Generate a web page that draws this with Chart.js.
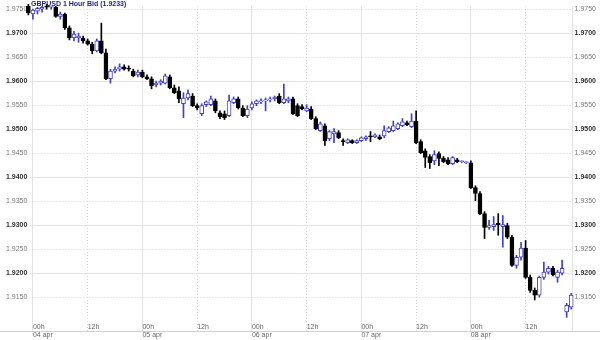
<!DOCTYPE html>
<html>
<head>
<meta charset="utf-8">
<title>GBPUSD 1 Hour Bid</title>
<script src="https://cdn.jsdelivr.net/npm/chart.js@4.4.0/dist/chart.umd.min.js"></script>
<style>
  html, body { margin: 0; padding: 0; background: #fff; }
  #wrap { width: 600px; height: 340px; }
</style>
</head>
<body>
<div id="wrap"><canvas id="grafico" width="600" height="340"></canvas></div>
<script>
// DATOS:

const titulo = "GBPUSD 1 Hour Bid (1.9233)";
const primeraHora = -1; // horas desde 04 apr 00h
const dias = ["04 apr", "05 apr", "06 apr", "07 apr", "08 apr"];
const horasTicks = [0, 12, 24, 36, 48, 60, 72, 84, 96, 108];
const preciosTicks = [1.9150, 1.9200, 1.9250, 1.9300, 1.9350, 1.9400, 1.9450,
                      1.9500, 1.9550, 1.9600, 1.9650, 1.9700, 1.9750];

const aperturas = [
  1.9756, 1.9740, 1.9746, 1.9750, 1.9756, 1.9754, 1.9754, 1.9735, 1.9740, 1.9711,
  1.9690, 1.9690, 1.9690, 1.9684, 1.9677, 1.9663, 1.9684, 1.9659, 1.9605, 1.9621,
  1.9625, 1.9630, 1.9627, 1.9621, 1.9613, 1.9619, 1.9609, 1.9605, 1.9592, 1.9596,
  1.9596, 1.9609, 1.9586, 1.9580, 1.9553, 1.9565, 1.9569, 1.9549, 1.9532, 1.9551,
  1.9551, 1.9559, 1.9534, 1.9532, 1.9528, 1.9555, 1.9563, 1.9544, 1.9528, 1.9544,
  1.9553, 1.9557, 1.9559, 1.9561, 1.9563, 1.9569, 1.9555, 1.9559, 1.9563, 1.9549,
  1.9547, 1.9538, 1.9542, 1.9522, 1.9497, 1.9507, 1.9480, 1.9490, 1.9493, 1.9476,
  1.9472, 1.9476, 1.9472, 1.9476, 1.9480, 1.9486, 1.9484, 1.9484, 1.9486, 1.9495,
  1.9497, 1.9501, 1.9507, 1.9513, 1.9505, 1.9517, 1.9474, 1.9455, 1.9443, 1.9434,
  1.9449, 1.9439, 1.9436, 1.9428, 1.9436, 1.9432, 1.9430, 1.9430, 1.9378, 1.9366,
  1.9324, 1.9295, 1.9297, 1.9304, 1.9297, 1.9299, 1.9275, 1.9216, 1.9233, 1.9252,
  1.9191, 1.9164, 1.9154, 1.9191, 1.9202, 1.9210, 1.9191, 1.9200, 1.9119, 1.9129
];
const maximos = [
  1.9760, 1.9750, 1.9754, 1.9756, 1.9760, 1.9756, 1.9756, 1.9744, 1.9742, 1.9715,
  1.9704, 1.9700, 1.9694, 1.9688, 1.9681, 1.9688, 1.9721, 1.9667, 1.9625, 1.9630,
  1.9636, 1.9634, 1.9632, 1.9625, 1.9623, 1.9623, 1.9613, 1.9609, 1.9600, 1.9603,
  1.9615, 1.9613, 1.9592, 1.9588, 1.9576, 1.9582, 1.9574, 1.9553, 1.9553, 1.9559,
  1.9569, 1.9563, 1.9538, 1.9538, 1.9571, 1.9567, 1.9567, 1.9549, 1.9549, 1.9557,
  1.9561, 1.9563, 1.9565, 1.9567, 1.9569, 1.9574, 1.9594, 1.9567, 1.9567, 1.9553,
  1.9551, 1.9551, 1.9547, 1.9526, 1.9515, 1.9511, 1.9497, 1.9501, 1.9497, 1.9480,
  1.9480, 1.9478, 1.9478, 1.9484, 1.9486, 1.9495, 1.9490, 1.9488, 1.9507, 1.9505,
  1.9517, 1.9513, 1.9522, 1.9517, 1.9532, 1.9538, 1.9478, 1.9459, 1.9447, 1.9455,
  1.9453, 1.9443, 1.9441, 1.9443, 1.9439, 1.9434, 1.9432, 1.9434, 1.9382, 1.9370,
  1.9328, 1.9310, 1.9318, 1.9324, 1.9320, 1.9304, 1.9279, 1.9237, 1.9264, 1.9268,
  1.9196, 1.9169, 1.9194, 1.9223, 1.9214, 1.9214, 1.9206, 1.9227, 1.9137, 1.9158
];
const minimos = [
  1.9738, 1.9729, 1.9740, 1.9744, 1.9750, 1.9750, 1.9733, 1.9729, 1.9708, 1.9686,
  1.9684, 1.9681, 1.9679, 1.9675, 1.9657, 1.9661, 1.9657, 1.9603, 1.9596, 1.9617,
  1.9621, 1.9623, 1.9621, 1.9609, 1.9609, 1.9607, 1.9603, 1.9584, 1.9588, 1.9592,
  1.9594, 1.9584, 1.9574, 1.9555, 1.9524, 1.9561, 1.9547, 1.9540, 1.9528, 1.9547,
  1.9549, 1.9534, 1.9522, 1.9520, 1.9526, 1.9553, 1.9542, 1.9526, 1.9524, 1.9540,
  1.9549, 1.9553, 1.9538, 1.9557, 1.9559, 1.9553, 1.9553, 1.9555, 1.9530, 1.9526,
  1.9540, 1.9536, 1.9520, 1.9499, 1.9495, 1.9466, 1.9476, 1.9472, 1.9480, 1.9466,
  1.9470, 1.9470, 1.9470, 1.9474, 1.9476, 1.9474, 1.9482, 1.9478, 1.9482, 1.9493,
  1.9495, 1.9499, 1.9505, 1.9507, 1.9503, 1.9470, 1.9449, 1.9420, 1.9418, 1.9426,
  1.9424, 1.9430, 1.9426, 1.9426, 1.9430, 1.9430, 1.9428, 1.9376, 1.9351, 1.9322,
  1.9272, 1.9291, 1.9289, 1.9279, 1.9254, 1.9272, 1.9214, 1.9210, 1.9227, 1.9189,
  1.9160, 1.9144, 1.9150, 1.9187, 1.9198, 1.9194, 1.9181, 1.9196, 1.9108, 1.9125
];
const cierres = [
  1.9742, 1.9748, 1.9752, 1.9754, 1.9754, 1.9754, 1.9735, 1.9740, 1.9711, 1.9690,
  1.9698, 1.9694, 1.9684, 1.9677, 1.9663, 1.9684, 1.9659, 1.9605, 1.9621, 1.9625,
  1.9630, 1.9625, 1.9625, 1.9611, 1.9619, 1.9609, 1.9605, 1.9590, 1.9596, 1.9600,
  1.9611, 1.9586, 1.9576, 1.9563, 1.9565, 1.9574, 1.9549, 1.9544, 1.9549, 1.9557,
  1.9563, 1.9538, 1.9526, 1.9524, 1.9559, 1.9563, 1.9544, 1.9528, 1.9542, 1.9553,
  1.9559, 1.9559, 1.9561, 1.9563, 1.9567, 1.9555, 1.9563, 1.9563, 1.9532, 1.9528,
  1.9542, 1.9544, 1.9522, 1.9501, 1.9511, 1.9476, 1.9495, 1.9495, 1.9482, 1.9474,
  1.9478, 1.9472, 1.9476, 1.9482, 1.9484, 1.9484, 1.9488, 1.9480, 1.9497, 1.9503,
  1.9507, 1.9511, 1.9515, 1.9509, 1.9517, 1.9472, 1.9451, 1.9441, 1.9430, 1.9447,
  1.9439, 1.9432, 1.9428, 1.9441, 1.9432, 1.9432, 1.9430, 1.9378, 1.9366, 1.9324,
  1.9295, 1.9299, 1.9301, 1.9301, 1.9301, 1.9275, 1.9216, 1.9233, 1.9252, 1.9191,
  1.9164, 1.9154, 1.9191, 1.9202, 1.9210, 1.9196, 1.9202, 1.9210, 1.9133, 1.9154
];

// ESTILOS:

const AZUL = "#4040c8";
const NEGRO = "#000000";
const GRIS_MAYOR = "#e2e2e2";
const GRIS_MENOR = "#d4d4d4";
const TRANSPARENTE = "rgba(0,0,0,0)";
const FUENTE = '"Liberation Sans", Arial, sans-serif';

Chart.defaults.font.family = FUENTE;

// FUNCIONES:

function esMayor(valor) {
    return Math.round(valor * 1000) % 10 === 0;
}

function esMedianoche(ctx) {
    return ctx.tick && ctx.tick.value % 24 === 0;
}

function fijarTicksPrecio(scale) {
    scale.ticks = preciosTicks.map(v => ({ value: v }));
}

function fijarTicksHora(scale) {
    scale.ticks = horasTicks.map(v => ({ value: v }));
}

function etiquetaHora(valor) {
    return valor % 24 === 0 ? "00h" : "12h";
}

function etiquetaDia(valor) {
    return valor % 24 === 0 ? dias[valor / 24] : "";
}

const horas = aperturas.map((_, i) => primeraHora + i);
const sube = cierres.map((c, i) => c >= aperturas[i]);

const cuerpos = horas.map((h, i) => ({ x: h, y: [aperturas[i], cierres[i]] }));
const mechas = horas.map((h, i) => ({ x: h, y: [minimos[i], maximos[i]] }));

// titulo y linea inferior
const decoracion = {
    id: "decoracion",
    beforeDatasetsDraw(chart) {
        const ctx = chart.ctx;
        ctx.save();
        ctx.font = "bold 7px " + FUENTE;
        ctx.fillStyle = "#26267a";
        ctx.textBaseline = "top";
        ctx.fillText(titulo, 31, 1);
        ctx.restore();
    },
    afterDraw(chart) {
        const ctx = chart.ctx;
        const y = Math.round(chart.scales.xd.top) + 0.5;
        ctx.save();
        ctx.strokeStyle = "#d0d0d0";
        ctx.lineWidth = 1;
        ctx.beginPath();
        ctx.moveTo(0, y);
        ctx.lineTo(chart.width, y);
        ctx.stroke();
        ctx.restore();
    }
};

const fuentePrecio = ctx => ({
    family: FUENTE,
    size: 7,
    lineHeight: 1.2,
    weight: ctx.tick && esMayor(ctx.tick.value) ? "bold" : "normal"
});
const colorPrecio = ctx => (ctx.tick && esMayor(ctx.tick.value) ? "#333333" : "#777777");

const yMin = 1.90794;
const yMax = 1.97562;
const xMin = -0.77;
const xMax = 118.3;

new Chart(document.getElementById("grafico"), {
    type: "bar",
    data: {
        datasets: [
            {
                label: "cuerpo",
                data: cuerpos,
                backgroundColor: sube.map(s => (s ? "#ffffff" : NEGRO)),
                borderColor: sube.map(s => (s ? AZUL : NEGRO)),
                borderWidth: 1,
                borderSkipped: false,
                barThickness: 4,
                minBarLength: 1,
                grouped: false,
                clip: false,
                order: 0,
                xAxisID: "x",
                yAxisID: "y"
            },
            {
                label: "mecha",
                data: mechas,
                backgroundColor: sube.map(s => (s ? AZUL : NEGRO)),
                borderWidth: 0,
                barThickness: 1,
                grouped: false,
                clip: false,
                order: 1,
                xAxisID: "x",
                yAxisID: "y"
            }
        ]
    },
    options: {
        responsive: false,
        animation: false,
        devicePixelRatio: 1,
        layout: { padding: { left: 4, right: 2, top: 0, bottom: 0 } },
        plugins: {
            legend: { display: false },
            tooltip: { enabled: false },
            title: { display: false }
        },
        scales: {
            x: {
                type: "linear",
                position: "bottom",
                weight: 0,
                offset: false,
                min: xMin,
                max: xMax,
                afterBuildTicks: fijarTicksHora,
                ticks: {
                    mirror: true,
                    align: "start",
                    padding: 0,
                    maxRotation: 0,
                    autoSkip: false,
                    color: "#666666",
                    font: { size: 7, lineHeight: 1.2 },
                    callback: etiquetaHora
                },
                grid: {
                    offset: false,
                    drawTicks: false,
                    tickLength: 0,
                    color: ctx => (esMedianoche(ctx) ? GRIS_MAYOR : TRANSPARENTE)
                },
                border: { display: false }
            },
            xd: {
                type: "linear",
                position: "bottom",
                weight: 1,
                offset: false,
                min: xMin,
                max: xMax,
                afterBuildTicks: fijarTicksHora,
                ticks: {
                    align: "start",
                    padding: 0.3,
                    maxRotation: 0,
                    autoSkip: false,
                    color: "#666666",
                    font: { size: 7, lineHeight: 1.2 },
                    callback: etiquetaDia
                },
                grid: { display: false, drawTicks: false },
                border: { display: false }
            },
            x2: {
                type: "linear",
                position: "top",
                offset: false,
                min: xMin,
                max: xMax,
                afterBuildTicks: fijarTicksHora,
                ticks: { display: false },
                grid: {
                    offset: false,
                    drawTicks: false,
                    color: ctx => (ctx.tick && !esMedianoche(ctx) ? GRIS_MENOR : TRANSPARENTE)
                },
                border: { display: false, dash: [1, 2] }
            },
            y: {
                position: "left",
                min: yMin,
                max: yMax,
                afterBuildTicks: fijarTicksPrecio,
                ticks: {
                    padding: 2,
                    font: fuentePrecio,
                    color: colorPrecio,
                    callback: v => v.toFixed(4)
                },
                grid: {
                    drawTicks: false,
                    color: ctx => (ctx.tick && esMayor(ctx.tick.value) ? GRIS_MAYOR : TRANSPARENTE)
                },
                border: { display: false }
            },
            y2: {
                position: "right",
                min: yMin,
                max: yMax,
                afterBuildTicks: fijarTicksPrecio,
                ticks: {
                    padding: 2,
                    font: fuentePrecio,
                    color: colorPrecio,
                    callback: v => v.toFixed(4)
                },
                grid: {
                    drawTicks: false,
                    color: ctx => (ctx.tick && !esMayor(ctx.tick.value) ? GRIS_MENOR : TRANSPARENTE)
                },
                border: { display: true, color: GRIS_MAYOR, dash: [1, 2] }
            }
        }
    },
    plugins: [decoracion]
});
</script>
</body>
</html>
